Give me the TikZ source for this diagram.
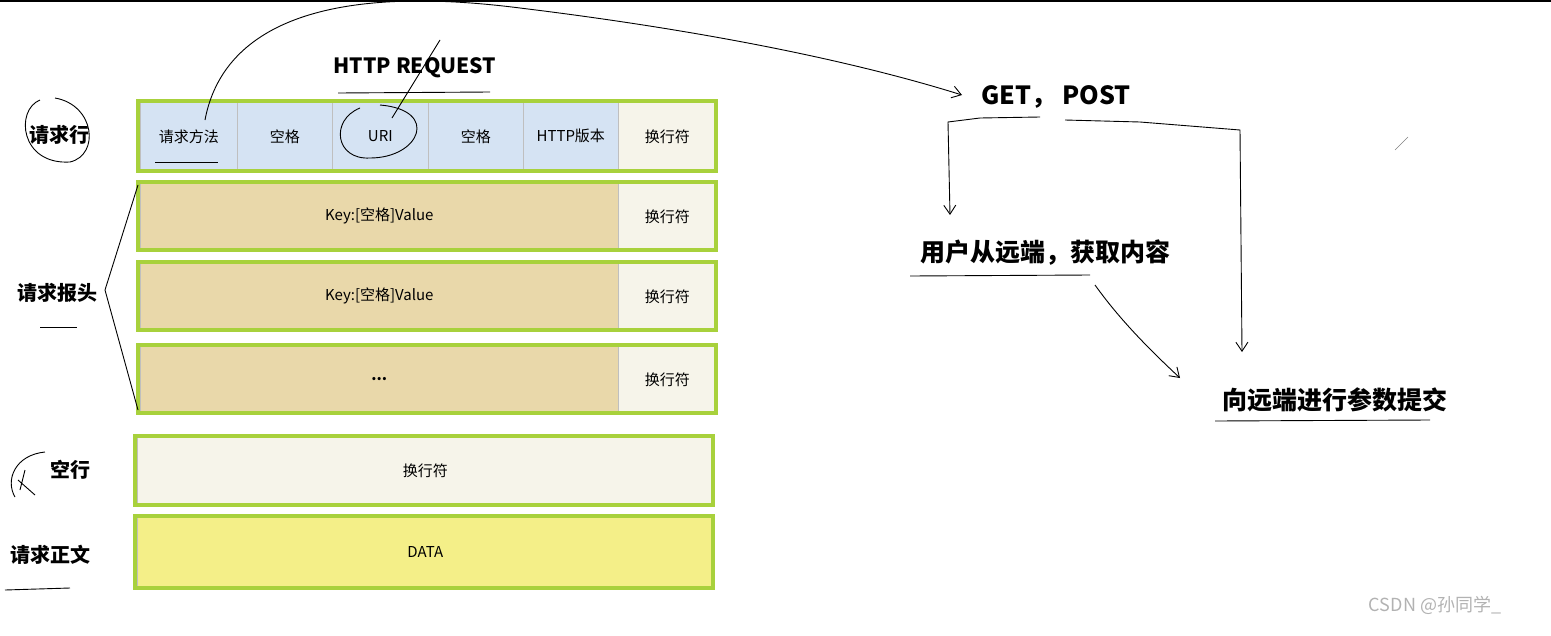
\documentclass[tikz,border=0pt]{standalone}
\usepackage{fontspec}
\setmainfont{Noto Sans CJK SC}
\usetikzlibrary{arrows.meta}
\definecolor{gb}{HTML}{A8D13C}
\definecolor{blu}{HTML}{D5E3F3}
\definecolor{wht}{HTML}{F6F4EA}
\definecolor{tan}{HTML}{E9D8AA}
\definecolor{yel}{HTML}{F4EF88}
\begin{document}
\begin{tikzpicture}[x=1pt,y=-1pt,
  cell/.style={draw=gray!50,line width=0.6pt,inner sep=0pt,anchor=north west,font=\fontsize{15}{18}\selectfont},
  frame/.style={draw=gb,line width=4pt},
  lab/.style={font=\fontsize{20}{24}\selectfont\bfseries},
  rlab/.style={font=\fontsize{25}{30}\selectfont\bfseries},
  hand/.style={line width=0.9pt,black},
  ar/.style={hand,-{Straight Barb[length=9pt,width=12pt]}}]
\useasboundingbox (0,0) rectangle (1551,635);
\draw[line width=3pt] (0,0) -- (1551,0);
% row 1
\foreach \x/\w/\t/\c/\n in {140/97/请求方法/blu/a,237/95/空格/blu/b,332/96/URI/blu/c,428/95/空格/blu/d,523/95/HTTP版本/blu/e,618/98/换行符/wht/f}
  \node[cell,fill=\c,minimum width=\w,minimum height=68] (r\n) at (\x,102) {\t};
\draw[frame] (138,101) rectangle (716,171);
% header rows
\foreach \y/\t/\i in {183/{Key:[空格]Value}/1,263/{Key:[空格]Value}/2,346/{\textbf{...}}/3}{
  \node[cell,fill=tan,minimum width=478,minimum height=66] (h\i) at (140,\y) {\t};
  \node[cell,fill=wht,minimum width=98,minimum height=66] (n\i) at (618,\y) {换行符};
  \draw[frame] (138,\y-1) rectangle (716,\y+67);}
\node[cell,fill=wht,minimum width=576,minimum height=67] (empty) at (137,437) {换行符};
\draw[frame] (135,436) rectangle (713,505);
\node[cell,fill=yel,minimum width=576,minimum height=70] (data) at (137,517) {DATA};
\draw[frame] (135,516) rectangle (713,588);
% left labels
\node[lab] (l1) at (60,135) {请求行};
\node[lab] (l2) at (57,293) {请求报头};
\node[lab] (l3) at (70,470) {空行};
\node[lab] (l4) at (50,555) {请求正文};
\draw[hand] (40,100) .. controls (15,110) and (20,165) .. (70,162) .. controls (100,155) and (95,105) .. (55,98);
\draw[hand] (40,327) -- (77,327);
\draw[hand] (5,590) -- (70,588);
\draw[hand] (138,185) -- (105,290) -- (138,410);
\draw[hand] (45,452) .. controls (15,455) and (5,480) .. (15,497) (18,480) -- (35,495) (25,470) -- (20,490);
\draw[hand] (155,162) -- (218,162);
% HTTP REQUEST
\node[font=\fontsize{21}{24}\selectfont\bfseries] (hr) at (415,68) {HTTP REQUEST};
\draw[hand] (338,93) -- (490,92);
\draw[hand] (392,118) -- (440,40);
\draw[hand] (360,108) .. controls (330,120) and (335,160) .. (370,158) .. controls (420,158) and (440,110) .. (380,105);
% right side
\node[rlab] (gp) at (1056,97) {GET， POST};
\draw[ar] (205,120) .. controls (220,40) and (300,-20) .. (520,8) .. controls (700,30) and (850,60) .. (962,95);
\draw[hand] (980,118) -- (1040,117);
\draw[ar] (980,118) -- (948,122) -- (950,215);
\node[rlab] (get) at (1045,253) {用户从远端，获取内容};
\draw[hand] (910,276) -- (1090,275);
\draw[ar] (1095,285) .. controls (1120,320) and (1150,350) .. (1180,378);
\draw[ar] (1065,120) -- (1140,122) -- (1240,130) -- (1242,352);
\node[rlab] (post) at (1335,400) {向远端进行参数提交};
\draw[hand] (1215,421) -- (1430,420);
\draw[gray] (1395,150) -- (1408,137);
\node[font=\fontsize{18}{22}\selectfont,text=gray!60] (wm) at (1435,605) {CSDN @孙同学\_};
\end{tikzpicture}
\end{document}
